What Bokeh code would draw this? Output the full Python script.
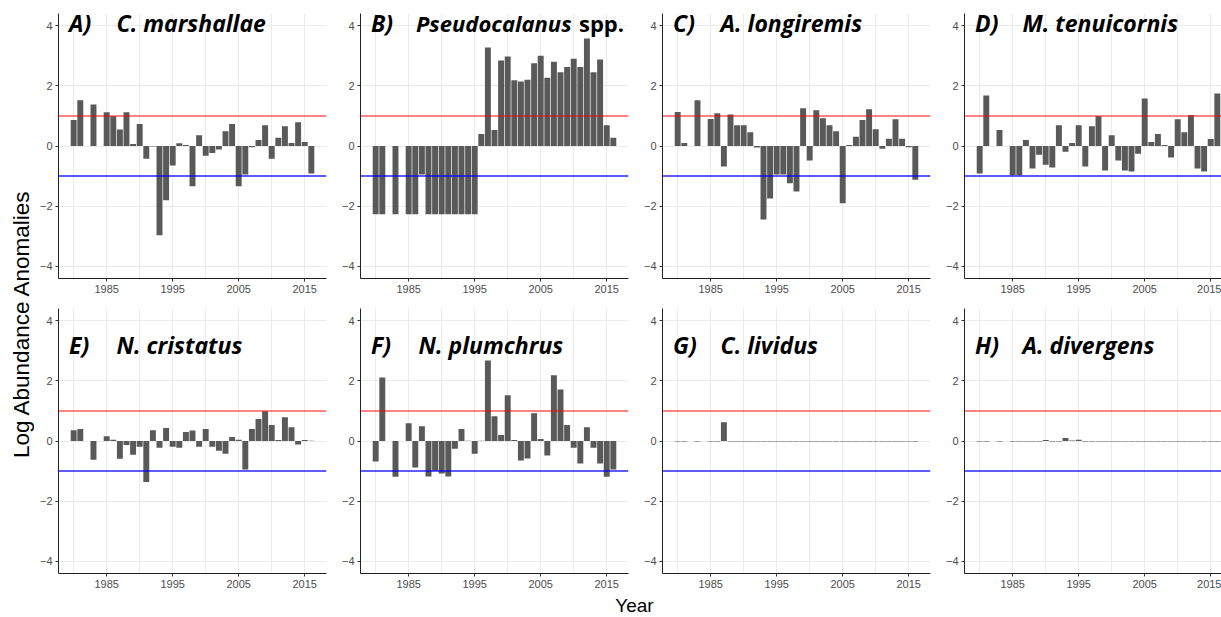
import math
from bokeh.plotting import figure
from bokeh.layouts import row, column
from bokeh.models import Range1d, FixedTicker, Span, ColumnDataSource, Label
from bokeh.embed import file_html
from bokeh.resources import INLINE
from bokeh.core.properties import value

years = list(range(1980, 2017))

c_marshallae = [0.86, 1.52, None, 1.38, None, 1.12, 0.99, 0.55, 1.12, 0.07,
                0.73, -0.42, -0.02, -2.96, -1.80, -0.65, 0.09, 0.03, -1.34, 0.36,
                -0.32, -0.23, -0.12, 0.49, 0.73, -1.34, -0.95, -0.04, 0.20, 0.69,
                -0.42, 0.27, 0.66, 0.10, 0.79, 0.13, -0.91]
pseudocalanus = [-2.27, -2.27, None, -2.27, None, -2.27, -2.27, -0.95, -2.27, -2.27,
                 -2.27, -2.27, -2.27, -2.27, -2.27, -2.27, 0.40, 3.27, 0.53, 2.84,
                 2.97, 2.18, 2.14, 2.20, 2.75, 3.00, 2.27, 2.80, 2.45, 2.62,
                 2.90, 2.62, 3.57, 2.45, 2.87, 0.69, 0.27]
a_longiremis = [1.13, 0.10, None, 1.52, None, 0.90, 1.09, -0.68, 1.05, 0.69,
                0.69, 0.46, -0.05, -2.44, -1.74, -0.95, -0.95, -1.24, -1.51, 1.25,
                -0.48, 1.19, 0.92, 0.69, 0.49, -1.90, 0.03, 0.31, 0.86, 1.22,
                0.56, -0.09, 0.24, 0.89, 0.24, -0.04, -1.12]
m_tenuicornis = [-0.91, 1.68, None, 0.53, None, -0.97, -0.97, 0.20, -0.75, -0.29,
                 -0.62, -0.71, 0.69, -0.19, 0.10, 0.69, -0.68, 0.66, 0.99, -0.81,
                 0.36, -0.48, -0.81, -0.85, -0.26, 1.58, 0.13, 0.40, 0.03, -0.38,
                 0.89, 0.46, 1.02, -0.75, -0.85, 0.23, 1.74]
n_cristatus = [0.36, 0.40, None, -0.62, None, 0.16, 0.04, -0.59, -0.13, -0.46,
               -0.19, -1.36, 0.36, -0.22, 0.43, -0.19, -0.22, 0.30, 0.35, -0.19,
               0.40, -0.19, -0.32, -0.42, 0.13, 0.04, -0.95, 0.40, 0.73, 0.99,
               0.53, 0.03, 0.79, 0.46, -0.12, 0.03, 0.01]
n_plumchrus = [-0.68, 2.11, None, -1.19, None, 0.59, -0.88, 0.49, -1.18, -0.99,
               -1.08, -1.18, -0.26, 0.40, 0.01, -0.42, 0.01, 2.67, 0.82, 0.20,
               1.52, 0.03, -0.65, -0.58, 0.92, 0.07, -0.48, 2.18, 1.71, 0.53,
               -0.22, -0.75, 0.46, -0.22, -0.75, -1.19, -0.95]
c_lividus = [-0.02, -0.02, None, -0.02, None, -0.02, -0.02, 0.62, -0.02, -0.02,
             -0.02, -0.02, -0.02, -0.02, -0.02, -0.02, -0.02, -0.02, -0.02, -0.02,
             -0.02, -0.02, -0.02, -0.02, -0.02, -0.02, -0.02, -0.02, -0.02, -0.02,
             -0.02, -0.02, -0.02, -0.02, -0.02, -0.02, -0.02]
a_divergens = [-0.02, -0.02, None, -0.02, None, -0.02, -0.02, -0.02, -0.02, -0.02,
               0.03, -0.02, -0.02, 0.10, 0.02, 0.04, -0.02, -0.02, -0.02, -0.02,
               -0.02, -0.02, -0.02, -0.02, -0.02, -0.02, -0.02, -0.02, -0.02, -0.02,
               -0.02, -0.02, -0.02, -0.02, -0.02, -0.02, -0.02]

series = [c_marshallae, pseudocalanus, a_longiremis, m_tenuicornis,
          n_cristatus, n_plumchrus, c_lividus, a_divergens]
panel_letters = ["A)", "B)", "C)", "D)", "E)", "F)", "G)", "H)"]
species = ["C. marshallae", "Pseudocalanus", "A. longiremis", "M. tenuicornis",
           "N. cristatus", "N. plumchrus", "C. lividus", "A. divergens"]
species_suffix = ["", "spp.", "", "", "", "", "", ""]

x_tick_labels = [1985, 1995, 2005, 2015]
x_grid_lines = [1980, 1985, 1990, 1995, 2000, 2005, 2010, 2015]
y_ticks = [-4, -2, 0, 2, 4]
upper_threshold = 1
lower_threshold = -1

# layout constants (pixels)
X0, X1 = 1977.7, 2018.3
Y0, Y1 = -4.4, 4.4
FRAME_W = 268
FRAME_H = 265
LEFT = 24
PITCH = 302
YLAB_W = 34
TOTAL_W = 1221
TOTAL_H = 617
TITLE_FONT = "Open Sans"
LABEL_FONT = "Liberation Sans"


def title_label(x, y, text, style, size="23px"):
    return Label(x=x, y=y, text=text, text_font=TITLE_FONT, text_font_style=style,
                 text_font_size=size, text_baseline="middle", text_align="left",
                 text_color="black")


def make_panel(i):
    top_row = i < 4
    last_col = (i % 4) == 3
    used = YLAB_W + 3 * PITCH + LEFT
    frame_w = (TOTAL_W - used) if last_col else FRAME_W
    right = 0 if last_col else PITCH - LEFT - FRAME_W
    x_end = X0 + (X1 - X0) * frame_w / FRAME_W
    top_b = 13 if top_row else 8
    bot_b = 22
    p = figure(width=LEFT + frame_w + right, height=top_b + FRAME_H + bot_b,
               x_range=Range1d(X0, x_end), y_range=Range1d(Y0, Y1),
               output_backend="svg", toolbar_location=None, title=None,
               min_border_left=LEFT, min_border_right=right,
               min_border_top=top_b, min_border_bottom=bot_b)
    p.outline_line_color = None
    p.background_fill_color = "white"
    p.border_fill_color = "white"

    yrs = [y for y, v in zip(years, series[i]) if v is not None]
    vals = [v for v in series[i] if v is not None]
    src = ColumnDataSource(dict(x=yrs, top=vals))
    p.vbar(x="x", top="top", bottom=0, width=0.9, source=src,
           fill_color="#595959", line_color=None)

    p.add_layout(Span(location=upper_threshold, dimension="width",
                      line_color="red", line_alpha=0.65, line_width=1.5))
    p.add_layout(Span(location=lower_threshold, dimension="width",
                      line_color="blue", line_alpha=0.85, line_width=1.5))

    ty = 4.08 if top_row else 3.2
    p.add_layout(title_label(1979.3, ty, panel_letters[i], "bold italic"))
    if species_suffix[i]:
        p.add_layout(title_label(1986.1, ty, species[i], "bold italic", "22px"))
        p.add_layout(title_label(2010.8, ty, species_suffix[i], "bold", "22px"))
    else:
        p.add_layout(title_label(1986.5, ty, species[i], "bold italic"))

    p.xaxis.ticker = FixedTicker(ticks=x_tick_labels)
    p.xgrid.ticker = FixedTicker(ticks=x_grid_lines)
    p.yaxis.ticker = FixedTicker(ticks=y_ticks)
    p.ygrid.ticker = FixedTicker(ticks=y_ticks)
    p.yaxis.major_label_overrides = {t: str(t).replace("-", "\u2212") for t in y_ticks}
    for ax in (p.xaxis[0], p.yaxis[0]):
        ax.axis_line_color = "#222222"
        ax.axis_line_width = 1
        ax.major_tick_line_color = "#333333"
        ax.major_tick_out = 3
        ax.major_tick_in = 0
        ax.minor_tick_line_color = None
        ax.major_label_text_font = LABEL_FONT
        ax.major_label_text_font_size = "11px"
        ax.major_label_text_color = "#4D4D4D"
        ax.major_label_standoff = 3
    for g in (p.xgrid[0], p.ygrid[0]):
        g.grid_line_color = "#EBEBEB"
        g.grid_line_width = 1
    return p


panels = [make_panel(i) for i in range(8)]
row1_h = 13 + FRAME_H + 22
row2_h = 8 + FRAME_H + 22
xlab_h = TOTAL_H - row1_h - row2_h

ylab = figure(width=YLAB_W, height=TOTAL_H, x_range=Range1d(0, 1), y_range=Range1d(0, 1),
              output_backend="svg", toolbar_location=None, title=None,
              min_border=0)
ylab.axis.visible = False
ylab.grid.visible = False
ylab.outline_line_color = None
ylab.text(x=[21 / YLAB_W], y=[(TOTAL_H - 323) / TOTAL_H], text=["Log Abundance Anomalies"],
          angle=math.pi / 2, text_font=value(LABEL_FONT), text_font_size="22.5px",
          text_align="center", text_baseline="middle", text_color="black")

xlab_w = TOTAL_W - YLAB_W
xlab = figure(width=xlab_w, height=xlab_h, x_range=Range1d(0, 1), y_range=Range1d(0, 1),
              output_backend="svg", toolbar_location=None, title=None,
              min_border=0)
xlab.axis.visible = False
xlab.grid.visible = False
xlab.outline_line_color = None
xlab.text(x=[(634 - YLAB_W) / xlab_w], y=[(xlab_h - 10) / xlab_h], text=["Year"],
          text_font=value(LABEL_FONT), text_font_size="19px", text_align="center",
          text_baseline="middle", text_color="black")

layout = row(ylab, column(row(*panels[:4]), row(*panels[4:]), xlab))

open("out.html", "w").write(file_html(layout, INLINE))
